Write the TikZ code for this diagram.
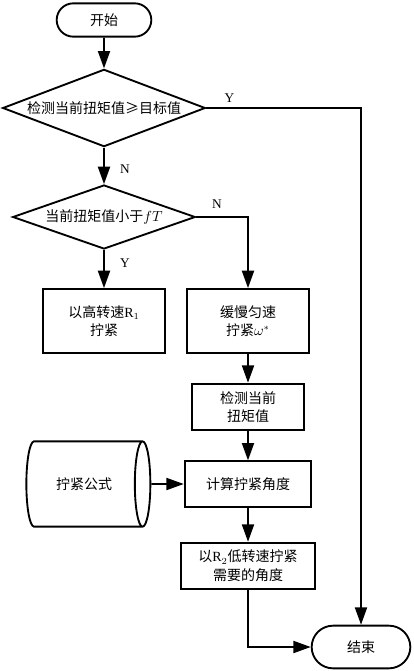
\documentclass[tikz,border=0pt]{standalone}
\usepackage{fontspec}
\setmainfont{Liberation Serif}
\newfontfamily\cjk{Noto Sans CJK SC}
\usetikzlibrary{arrows.meta,positioning,calc,shapes.geometric,shapes.misc}

\begin{document}
\begin{tikzpicture}[x=0.75pt,y=-0.75pt,line width=1.4pt,
  font=\fontsize{10.5}{14}\selectfont,
  term/.style={draw,rounded rectangle,inner sep=0pt},
  decide/.style={draw,diamond,inner sep=0pt},
  procbox/.style={draw,rectangle,align=center,inner sep=1pt},
  store/.style={draw,cylinder,shape aspect=1.2,inner sep=0pt},
  flow/.style={-{Triangle[length=13pt,width=9pt]}},
  tag/.style={font=\fontsize{10}{12}\selectfont}]
  \useasboundingbox (0,0) rectangle (414,671);

  % start and first test
  \node[term,minimum width=71pt,minimum height=25pt] (start) at (104,20) {\cjk 开始};
  \node[decide,aspect=2.6,minimum width=152pt,minimum height=58pt] (chk) at (104,108)
    {\cjk 检测当前扭矩值≥目标值};
  \node[decide,aspect=2.85,minimum width=137pt,minimum height=48pt] (cmp) at (104,217)
    {{\cjk 当前扭矩值小于}$fT$};

  % tightening steps
  \node[procbox,minimum width=91pt,minimum height=48pt] (fast) at (104,321)
    {{\cjk 以高转速}R$_1$\\{\cjk 拧紧}};
  \node[procbox,minimum width=92pt,minimum height=48pt] (slow) at (248,321)
    {{\cjk 缓慢匀速}\\{\cjk 拧紧}$\omega^*$};
  \node[procbox,minimum width=84pt,minimum height=35pt] (meas) at (248,407)
    {{\cjk 检测当前}\\{\cjk 扭矩值}};
  \node[procbox,minimum width=95pt,minimum height=34pt] (calc) at (248,484)
    {\cjk 计算拧紧角度};
  \node[store,minimum width=64pt,minimum height=93pt] (formula) at (84,484)
    {\cjk 拧紧公式};
  \node[procbox,minimum width=101pt,minimum height=35pt] (low) at (248,566)
    {{\cjk 以}R$_2${\cjk 低转速拧紧}\\{\cjk 需要的角度}};
  \node[term,minimum width=74pt,minimum height=32pt] (stop) at (361,647) {\cjk 结束};

  % connectors
  \draw[flow] (start) -- (chk);
  \draw[flow] (chk.east) -- (chk.east -| stop) node[tag,pos=0.15,above] {Y} -- (stop.north);
  \draw[flow] (chk) -- (cmp) node[tag,pos=0.6,right=8pt] {N};
  \draw[flow] (cmp) -- (fast) node[tag,pos=0.35,right=8pt] {Y};
  \draw[flow] (cmp.east) -| (slow.north) node[tag,pos=0.2,above=2pt] {N};
  \draw[flow] (slow) -- (meas);
  \draw[flow] (meas) -- (calc);
  \draw[flow] (formula) -- (calc);
  \draw[flow] (calc) -- (low);
  \draw[flow] (low.south) |- (stop.west);
\end{tikzpicture}
\end{document}
